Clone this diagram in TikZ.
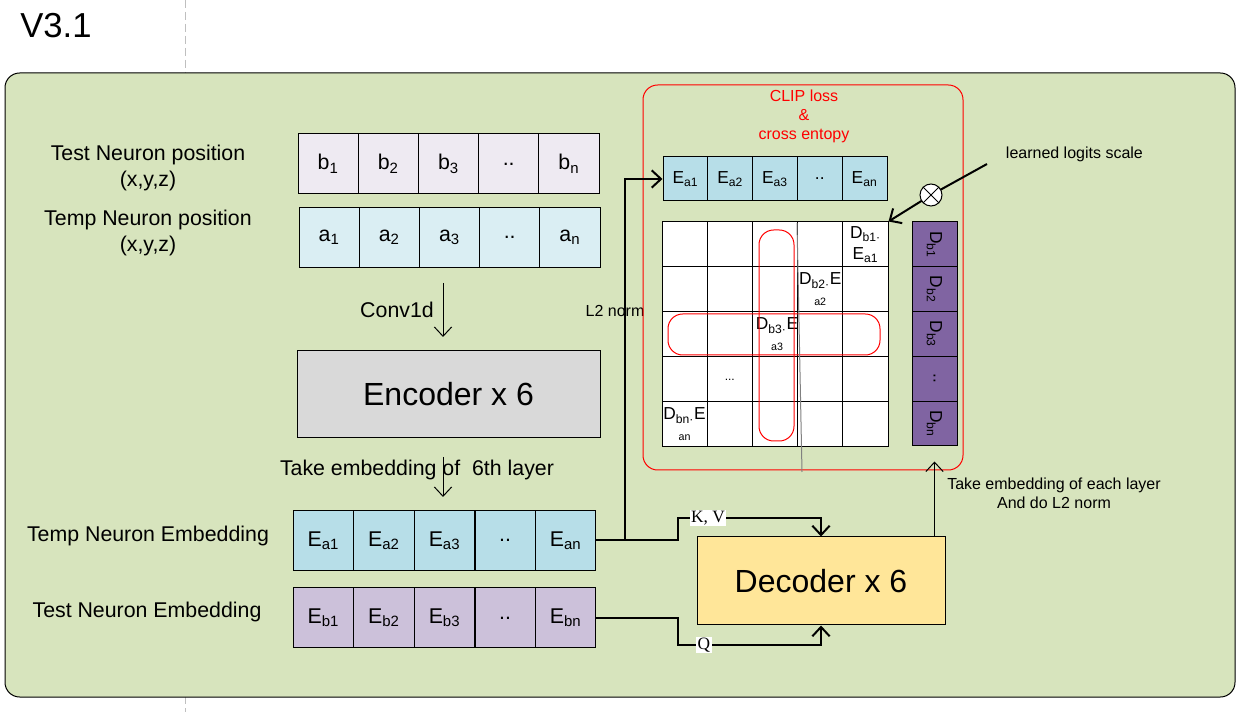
\documentclass[tikz,border=0pt]{standalone}
\usepackage{fontspec}
\setmainfont{Liberation Sans}
\newfontfamily\kvfont{Liberation Serif}
\usetikzlibrary{arrows.meta,positioning,calc}
\definecolor{bggreen}{HTML}{D7E4BD}
\definecolor{bpos}{HTML}{EEEAF2}
\definecolor{apos}{HTML}{DAEEF3}
\definecolor{eblue}{HTML}{B7DEE8}
\definecolor{epurple}{HTML}{CCC1DA}
\definecolor{encgray}{HTML}{D9D9D9}
\definecolor{decyellow}{HTML}{FFE699}
\definecolor{dpurple}{HTML}{8064A2}

\begin{document}
\begin{tikzpicture}[x=0.75pt,y=-0.75pt,line width=0.75pt,
  lab/.style={font=\fontsize{16}{19.5}\selectfont,align=center},
  note/.style={font=\fontsize{12}{14.25}\selectfont,align=center},
  cell/.style={draw,inner sep=0,minimum width=45.15pt,minimum height=45pt,font=\fontsize{16}{19}\selectfont},
  tcell/.style={draw,fill=eblue,inner sep=0,minimum width=33.6pt,minimum height=33pt,font=\fontsize{13}{16}\selectfont},
  mcell/.style={draw,fill=white,inner sep=0,minimum width=33.9pt,minimum height=33.75pt},
  mtxt/.style={font=\fontsize{13}{15.75}\selectfont,align=center,inner sep=0},
  dcell/.style={draw,fill=dpurple,inner sep=0,minimum width=33.6pt,minimum height=33.75pt,font=\fontsize{13}{16}\selectfont,rotate=-90},
  block/.style={draw,inner sep=0,font=\fontsize{24}{28}\selectfont},
  arr/.style={-{Straight Barb[length=7pt,width=13pt]}},
  heavy/.style={line width=1.5pt},
  tag/.style={fill=white,inner sep=1pt,font=\kvfont\fontsize{13}{15}\selectfont}]
  \useasboundingbox (0,0) rectangle (1243,712);
  \fill[white] (0,0) rectangle (1243,712);
  \draw[gray!50,dash pattern=on 6pt off 3pt] (185,0) -- (185,712);
  \draw[fill=bggreen,rounded corners=11pt] (5,73) rectangle (1235,697);
  \node[font=\fontsize{26}{30}\selectfont] (ver) at (56,26) {V3.1};

  \node[lab] (testpos) at (148,168) {Test Neuron position\\(x,y,z)};
  \node[lab] (temppos) at (148,232.5) {Temp Neuron position\\(x,y,z)};
  \node[lab] (tempemb) at (148,536) {Temp Neuron Embedding};
  \node[lab] (testemb) at (147,612) {Test Neuron Embedding};

  \foreach \t [count=\i] in {{b\textsubscript{1}},{b\textsubscript{2}},{b\textsubscript{3}},{..},{b\textsubscript{n}}}
    \node[cell,fill=bpos] (b\i) at ({298+60.2*(\i-0.5)},164) {\t};
  \foreach \t [count=\i] in {{a\textsubscript{1}},{a\textsubscript{2}},{a\textsubscript{3}},{..},{a\textsubscript{n}}}
    \node[cell,fill=apos] (a\i) at ({299+60.2*(\i-0.5)},237.5) {\t};
  \foreach \t [count=\i] in {{E\textsubscript{a1}},{E\textsubscript{a2}},{E\textsubscript{a3}},{..},{E\textsubscript{an}}}
    \node[cell,fill=eblue] (ea\i) at ({293+60.6*(\i-0.5)},540.5) {\t};
  \foreach \t [count=\i] in {{E\textsubscript{b1}},{E\textsubscript{b2}},{E\textsubscript{b3}},{..},{E\textsubscript{bn}}}
    \node[cell,fill=epurple] (eb\i) at ({293+60.6*(\i-0.5)},618) {\t};

  \node[block,fill=encgray,minimum width=227.25pt,minimum height=65.25pt] (enc) at (448.5,394.5) {Encoder x 6};
  \node[block,fill=decyellow,minimum width=186pt,minimum height=66pt] (dec) at (821,581) {Decoder x 6};

  \node[lab] (conv) at (397,310) {Conv1d};
  \node[lab] (take6) at (417,470) {Take embedding of~ 6th layer};
  \coordinate (cv1) at (443,283);
  \coordinate (cv2) at (443,337);
  \coordinate (tk1) at (443,457);
  \coordinate (tk2) at (443,497);
  \draw[arr] (cv1) -- (cv2);
  \draw[arr] (tk1) -- (tk2);

  \node[note] (l2) at (615,311) {L2 norm};
  \draw[red] (643,85) [rounded corners=11pt] rectangle (963,470);
  \node[note,text=red] (clip) at (804,116) {CLIP loss\\\&\\cross entopy};

  \foreach \t [count=\i] in {{E\textsubscript{a1}},{E\textsubscript{a2}},{E\textsubscript{a3}},{..},{E\textsubscript{an}}}
    \node[tcell] (ta\i) at ({663+44.8*(\i-0.5)},179) {\t};
  \foreach \r in {1,...,5}
    \foreach \c in {1,...,5}
      \node[mcell] (m\r\c) at ({662+45.2*(\c-0.5)},{222+45*(\r-0.5)}) {};
  \node[mtxt] (t15) at (m15) {D\textsubscript{b1·}\\E\textsubscript{a1}};
  \node[mtxt] (t24) at (m24) {D\textsubscript{b2·}E\\{\fontsize{8}{10}\selectfont a2}};
  \node[mtxt] (t33) at ($(m33)+(2,0)$) {D\textsubscript{b3·}E\\{\fontsize{8}{10}\selectfont a3}};
  \node[mtxt,font=\fontsize{9}{10}\selectfont] (t42) at (m42) {...};
  \node[mtxt] (t51) at (m51) {D\textsubscript{bn·}E\\{\fontsize{8}{10}\selectfont an}};
  \draw[red,rounded corners=11pt] (759,230) rectangle (794,441);
  \draw[red,rounded corners=11pt] (668,314) rectangle (880,355);
  \coordinate (g1) at (797,223);
  \coordinate (g2) at (802,472);
  \draw[gray] (g1) -- (g2);

  \foreach \t [count=\i] in {{D\textsubscript{b1}},{D\textsubscript{b2}},{D\textsubscript{b3}},{..},{D\textsubscript{bn}}}
    \node[dcell] (d\i) at (934.5,{222+44.8*(\i-0.5)}) {\t};

  \coordinate (lls) at (987,164);
  \node[note,anchor=west] (llstxt) at (1001,154) {learned logits scale};
  \draw[heavy] (lls) -- (931,195);
  \draw[heavy,arr] (931,195) -- (m15.north east);
  \node[circle,draw,fill=white,minimum size=16.5pt,inner sep=0] (ot) at (931,195) {};
  \draw (ot.north west) -- (ot.south east) (ot.north east) -- (ot.south west);

  \coordinate (l2x) at (625,541);
  \coordinate (kvx) at (678,518);
  \coordinate (qx) at (678,645);
  \draw[heavy,arr] (ea5.east) -- (ea5.east -| l2x) |- (ta1.west);
  \draw[heavy,arr] (ea5.east) -| (kvx) -| (dec.north);
  \draw[heavy,arr] (eb5.east) -| (qx) -| (dec.south);
  \node[tag] (kv) at (708,518) {K, V};
  \node[tag] (q) at (704,645) {Q};

  \draw[arr] (dec.north -| d5.east) -- ($(d5.east)+(0,15)$);
  \node[note] (takeall) at (1054,493.5) {Take embedding of each layer\\And do L2 norm};
\end{tikzpicture}
\end{document}
